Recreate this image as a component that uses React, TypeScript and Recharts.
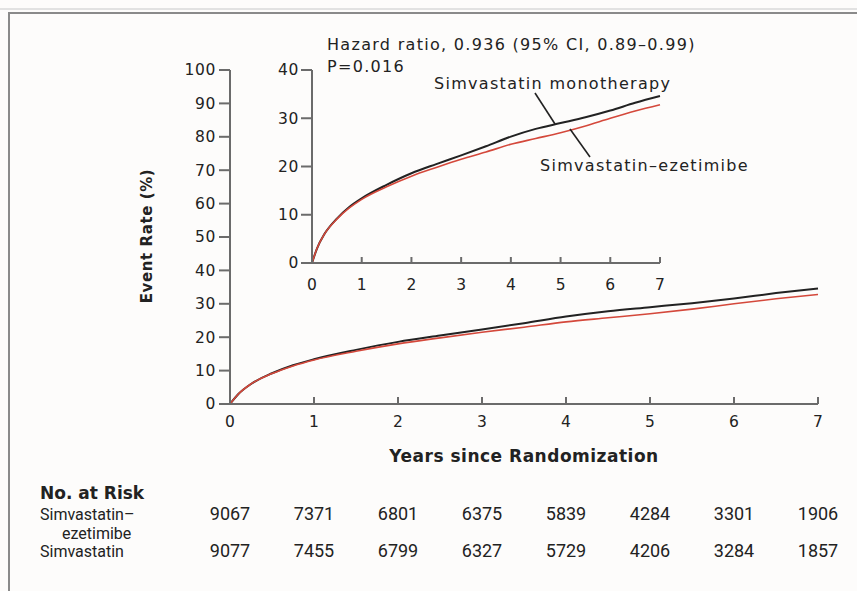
import { Line, LineChart, XAxis, YAxis } from 'recharts';

// Kaplan-Meier style cumulative event rates (%)
const years = [0, 0.1, 0.25, 0.5, 0.75, 1, 1.5, 2, 2.5, 3, 3.5, 4, 4.5, 5, 5.5, 6, 6.5, 7];
const monotherapyRate = [0, 3, 6, 9.2, 11.6, 13.4, 16.2, 18.6, 20.5, 22.3, 24.2, 26.2, 27.8, 29.0, 30.2, 31.6, 33.2, 34.6];
const ezetimibeRate = [0, 3, 6, 9.1, 11.4, 13.2, 15.8, 18.0, 19.8, 21.5, 23.0, 24.6, 25.8, 27.0, 28.4, 30.0, 31.5, 32.8];

const xTicks = [0, 1, 2, 3, 4, 5, 6, 7];
const mainYTicks = [0, 10, 20, 30, 40, 50, 60, 70, 80, 90, 100];
const insetYTicks = [0, 10, 20, 30, 40];

const riskGroups = ['Simvastatin–', 'ezetimibe', 'Simvastatin'];
const atRiskEzetimibe = [9067, 7371, 6801, 6375, 5839, 4284, 3301, 1906];
const atRiskSimvastatin = [9077, 7455, 6799, 6327, 5729, 4206, 3284, 1857];

const data = years.map((t, i) => ({ t, mono: monotherapyRate[i], eze: ezetimibeRate[i] }));

const WIDE = '"DejaVu Sans", Verdana, sans-serif';
const NARROW = 'Roboto, "Liberation Sans", sans-serif';
const AXIS = '#6b6b6b';
const INK = '#222';
const RED = '#d4483b';

// plot frames (px)
const MAIN_LEFT = 230;
const MAIN_RIGHT = 818;
const MAIN_TOP = 70;
const MAIN_BOTTOM = 404;
const INSET_LEFT = 312;
const INSET_RIGHT = 660;
const INSET_BOTTOM = 263;

const xPos = (v: number) => MAIN_LEFT + ((MAIN_RIGHT - MAIN_LEFT) * v) / 7;

function makeInwardTick(len: number, labelDy: number, fontSize: number) {
  return (props: any) => {
    const { x, y, payload } = props;
    return (
      <g>
        <line x1={x} y1={y} x2={x} y2={y - len} stroke={AXIS} strokeWidth={2} />
        <text x={x} y={y + labelDy} textAnchor="middle" fill={INK} fontSize={fontSize} fontFamily={WIDE}>
          {payload.value}
        </text>
      </g>
    );
  };
}

function makeLeftTick(fontSize: number) {
  return (props: any) => {
    const { x, y, payload } = props;
    return (
      <text x={x} y={y} dy="0.35em" textAnchor="end" fill={INK} fontSize={fontSize} fontFamily={WIDE} letterSpacing={0.6}>
        {payload.value}
      </text>
    );
  };
}

export default function App() {
  const riskRows = [atRiskEzetimibe, atRiskSimvastatin];
  const rowY = [520, 557];
  return (
    <div style={{ position: 'absolute', left: 0, top: 0, width: 857, height: 591, background: '#fdfcfb', overflow: 'hidden' }}>
      <div style={{ position: 'absolute', left: 0, top: 0 }}>
        <LineChart width={857} height={470} data={data} margin={{ top: MAIN_TOP, right: 857 - MAIN_RIGHT, left: 0, bottom: 0 }}>
          <XAxis
            dataKey="t"
            type="number"
            domain={[0, 7]}
            ticks={xTicks}
            height={470 - MAIN_BOTTOM}
            tickSize={0}
            tickMargin={0}
            tickLine={false}
            axisLine={{ stroke: AXIS, strokeWidth: 2 }}
            tick={makeInwardTick(7, 23, 15.5)}
            interval={0}
          />
          <YAxis
            type="number"
            domain={[0, 100]}
            ticks={mainYTicks}
            width={MAIN_LEFT}
            tickSize={11}
            tickMargin={3}
            tickLine={{ stroke: AXIS, strokeWidth: 2 }}
            axisLine={{ stroke: AXIS, strokeWidth: 2 }}
            tick={makeLeftTick(15.5)}
            interval={0}
          />
          <Line type="monotone" dataKey="mono" stroke={INK} strokeWidth={2} dot={false} isAnimationActive={false} />
          <Line type="monotone" dataKey="eze" stroke={RED} strokeWidth={1.6} dot={false} isAnimationActive={false} />
        </LineChart>
      </div>
      <div style={{ position: 'absolute', left: 0, top: 0 }}>
        <LineChart width={857} height={300} data={data} margin={{ top: MAIN_TOP, right: 857 - INSET_RIGHT, left: 0, bottom: 0 }}>
          <XAxis
            dataKey="t"
            type="number"
            domain={[0, 7]}
            ticks={xTicks}
            height={300 - INSET_BOTTOM}
            tickSize={0}
            tickMargin={0}
            tickLine={false}
            axisLine={{ stroke: AXIS, strokeWidth: 2 }}
            tick={makeInwardTick(6, 27, 15.5)}
            interval={0}
          />
          <YAxis
            type="number"
            domain={[0, 40]}
            ticks={insetYTicks}
            width={INSET_LEFT}
            tickSize={11}
            tickMargin={2}
            tickLine={{ stroke: AXIS, strokeWidth: 2 }}
            axisLine={{ stroke: AXIS, strokeWidth: 2 }}
            tick={makeLeftTick(15.5)}
            interval={0}
          />
          <Line type="monotone" dataKey="mono" stroke={INK} strokeWidth={2} dot={false} isAnimationActive={false} />
          <Line type="monotone" dataKey="eze" stroke={RED} strokeWidth={1.6} dot={false} isAnimationActive={false} />
        </LineChart>
      </div>
      <svg width={857} height={591} style={{ position: 'absolute', left: 0, top: 0, pointerEvents: 'none' }} fontFamily={WIDE}>
        <line x1={0} y1={9} x2={857} y2={9} stroke="#e2e2e2" strokeWidth={2} />
        <rect x={9} y={13} width={900} height={600} fill="none" stroke="#8a8a8a" strokeWidth={2} />
        <text x={147} y={236} transform="rotate(-90 147 236)" textAnchor="middle" dominantBaseline="central" fontSize={15} fontWeight={700} letterSpacing={0.6} fill={INK}>
          Event Rate (%)
        </text>
        <text x={(MAIN_LEFT + MAIN_RIGHT) / 2} y={462} textAnchor="middle" fontSize={17} fontWeight={700} letterSpacing={0.5} fill={INK}>
          Years since Randomization
        </text>
        <g fontSize={16} letterSpacing={1.3} fill={INK}>
          <text x={327} y={50}>Hazard ratio, 0.936 (95% CI, 0.89–0.99)</text>
          <text x={327} y={72}>P=0.016</text>
          <text x={434} y={89}>Simvastatin monotherapy</text>
          <text x={540} y={171}>Simvastatin–ezetimibe</text>
        </g>
        <line x1={535} y1={93} x2={555} y2={124} stroke={INK} strokeWidth={1.6} />
        <line x1={570} y1={129} x2={590} y2={157} stroke={INK} strokeWidth={1.6} />
        <text x={40} y={499} fontSize={17} fontWeight={700} fill={INK}>No. at Risk</text>
        <g fontFamily={NARROW} fontSize={16} fill={INK}>
          <text x={40} y={rowY[0]}>{riskGroups[0]}</text>
          <text x={62} y={539}>{riskGroups[1]}</text>
          <text x={40} y={rowY[1]}>{riskGroups[2]}</text>
          {riskRows.map((row, r) =>
            row.map((n, i) => (
              <text key={`${r}-${i}`} x={xPos(xTicks[i])} y={rowY[r]} textAnchor="middle" fontSize={18}>
                {n}
              </text>
            ))
          )}
        </g>
      </svg>
    </div>
  );
}
